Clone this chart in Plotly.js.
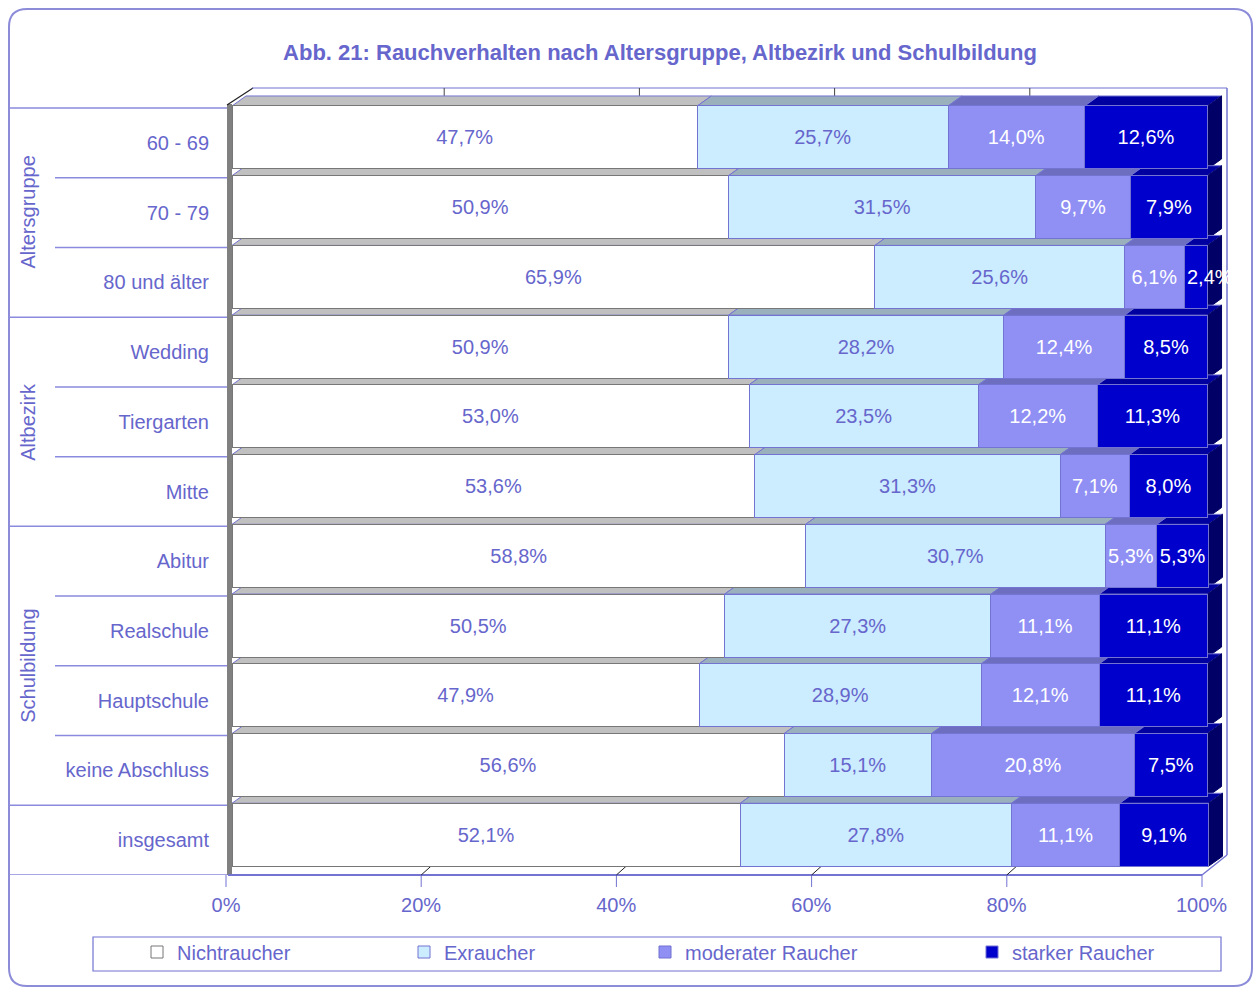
<!DOCTYPE html>
<html>
<head>
<meta charset="utf-8">
<script src="https://cdn.plot.ly/plotly-3.0.1.min.js"></script>
<style>
html,body{margin:0;padding:0;background:#fff;}
#chart{width:1256px;height:988px;}
</style>
</head>
<body>
<div id="chart"></div>
<script>
// ---- data ----
const categories = ['60 - 69','70 - 79','80 und älter','Wedding','Tiergarten','Mitte','Abitur','Realschule','Hauptschule','keine Abschluss','insgesamt'];
const nichtraucher = [47.7,50.9,65.9,50.9,53.0,53.6,58.8,50.5,47.9,56.6,52.1];
const exraucher = [25.7,31.5,25.6,28.2,23.5,31.3,30.7,27.3,28.9,15.1,27.8];
const moderat = [14.0,9.7,6.1,12.4,12.2,7.1,5.3,11.1,12.1,20.8,11.1];
const stark = [12.6,7.9,2.4,8.5,11.3,8.0,5.3,11.1,11.1,7.5,9.1];
const seriesNames = ['Nichtraucher','Exraucher','moderater Raucher','starker Raucher'];
const groupNames = ['Altersgruppe','Altbezirk','Schulbildung'];
const groupCenters = [1, 4, 7.5];           // category index at group middle
const groupBreaks = [-0.5, 2.5, 5.5, 9.5, 10.5];
const xTicks = [0,20,40,60,80,100];
const titleText = 'Abb. 21: Rauchverhalten nach Altersgruppe, Altbezirk und Schulbildung';

// ---- style ----
const FONT = 'Liberation Sans, Arial, sans-serif';
const LABEL = '#6666cc';
const EDGE = '#7373d2';
const frontColors = ['#ffffff','#ccecff','#8f8ff4','#0000cc'];
const topColors = ['#c0c0c0','#9ab0bc','#6e6ec0','#0000a0'];
const sideColor = '#000066';
const textColors = [LABEL, LABEL, '#ffffff', '#ffffff'];

const W=1256, H=988, ML=232, MR=27, MT=86, MB=113;
const PW=W-ML-MR, PH=H-MT-MB;
const px = v => (v-ML)/PW;
const py = v => (H-MB-v)/PH;

const series = [nichtraucher, exraucher, moderat, stark];
const fmt = v => v.toFixed(1).replace('.', ',') + '%';
const SMALL = 4;   // segments narrower than this get their label as a left-anchored annotation

const BW = 0.9035, BO = -0.529;
const legends = ['legend','legend2','legend3','legend4'];

const traces = series.map((vals, s) => ({
  type:'bar', orientation:'h', name:seriesNames[s],
  y:categories, x:vals, width:BW, offset:BO,
  marker:{color:frontColors[s], line:{color: s===0 ? '#777777' : EDGE, width:1}},
  text: vals.map(v => v < SMALL ? '' : fmt(v)), textposition:'inside', insidetextanchor:'middle', textangle:0,
  textfont:{family:FONT, size:20, color:textColors[s]},
  legend: legends[s], hoverinfo:'name+x+y', cliponaxis:false
}));

// ---- 3D faces (data coordinates) ----
const dx = 14/(PW/102.2), dyU = 10/69.73;
const shapes = [];
const annotations = [];
categories.forEach((c, k) => {
  let cum = 0;
  const ytop = k + BO, ybot = k + BO + BW;
  series.forEach((vals, s) => {
    const x0 = cum, x1 = cum + vals[k];
    cum = x1;
    shapes.push({type:'path', xref:'x', yref:'y', layer:'between',
      path:`M${x0},${ytop} L${x1},${ytop} L${x1+dx},${ytop-dyU} L${x0+dx},${ytop-dyU} Z`,
      fillcolor:topColors[s], line:{color:EDGE, width:1}});
    if (vals[k] < SMALL) {
      annotations.push({text:fmt(vals[k]), xref:'x', yref:'y', x:x0, y:k + BO + BW/2,
        xanchor:'left', yanchor:'middle', showarrow:false, xshift:1,
        font:{family:FONT, size:20, color:textColors[s]}});
    }
  });
  shapes.push({type:'path', xref:'x', yref:'y', layer:'between',
    path:`M${cum},${ytop} L${cum+dx},${ytop-dyU} L${cum+dx},${ybot-dyU} L${cum},${ybot} Z`,
    fillcolor:sideColor, line:{color:'#000066', width:1}});
});

// ---- left table lines ----
for (let b = -0.5; b <= 10.5; b += 1) {
  const major = groupBreaks.includes(b);
  shapes.push({type:'line', xref:'paper', yref:'y', layer:'below',
    x0: px(major ? 10 : 55), x1: px(228), y0:b, y1:b,
    line:{color:'#8a8ade', width:1.5}});
}

// ---- walls / floor decoration (paper coords) ----
const P = (x,y) => `${px(x)},${py(y)}`;
shapes.push({type:'rect', xref:'paper', yref:'paper', layer:'below',
  x0:px(227), x1:px(232), y0:py(875), y1:py(104), fillcolor:'#808080', line:{width:0}});
shapes.push({type:'line', xref:'paper', yref:'paper', layer:'below',
  x0:px(227), y0:py(105), x1:px(253), y1:py(88), line:{color:'#222222', width:1.2}});
shapes.push({type:'line', xref:'paper', yref:'paper', layer:'below',
  x0:px(252), y0:py(88), x1:px(1227), y1:py(88), line:{color:EDGE, width:1.2}});
shapes.push({type:'line', xref:'paper', yref:'paper', layer:'below',
  x0:px(1227), y0:py(88), x1:px(1227), y1:py(855), line:{color:EDGE, width:1.5}});
shapes.push({type:'line', xref:'paper', yref:'paper', layer:'below',
  x0:px(1202), y0:py(875), x1:px(1227), y1:py(855), line:{color:EDGE, width:1.5}});
shapes.push({type:'line', xref:'paper', yref:'paper', layer:'below',
  x0:px(228), y0:py(875), x1:px(1202), y1:py(875), line:{color:EDGE, width:2}});
xTicks.forEach(v => {
  const tx = 226 + 9.76*v;
  shapes.push({type:'line', xref:'paper', yref:'paper', layer:'below',
    x0:px(tx), y0:py(875), x1:px(tx), y1:py(887), line:{color:EDGE, width:1}});
  if (v > 0 && v < 100) {
    shapes.push({type:'line', xref:'paper', yref:'paper', layer:'below',
      x0:px(tx), y0:py(875), x1:px(tx+10), y1:py(866), line:{color:'#222222', width:1}});
    shapes.push({type:'line', xref:'paper', yref:'paper', layer:'below',
      x0:px(tx+23), y0:py(88), x1:px(tx+23), y1:py(100), line:{color:'#444444', width:1}});
  }
});

// legend frame
shapes.push({type:'rect', xref:'paper', yref:'paper', layer:'below',
  x0:px(93), x1:px(1221), y0:py(971), y1:py(937), line:{color:EDGE, width:1.2}, fillcolor:'rgba(0,0,0,0)'});

// outer rounded border
(function(){
  const x0=9,y0=9,x1=1252,y1=986,r=18;
  const path = `M${P(x0+r,y0)} L${P(x1-r,y0)} Q${P(x1,y0)} ${P(x1,y0+r)} L${P(x1,y1-r)} Q${P(x1,y1)} ${P(x1-r,y1)} L${P(x0+r,y1)} Q${P(x0,y1)} ${P(x0,y1-r)} L${P(x0,y0+r)} Q${P(x0,y0)} ${P(x0+r,y0)} Z`;
  shapes.push({type:'path', xref:'paper', yref:'paper', layer:'below', path, line:{color:'#8c8cd9', width:2}});
})();

// ---- annotations: group labels ----
groupNames.forEach((g, i) => annotations.push({
  text:g, xref:'paper', yref:'y', x:px(28), y:groupCenters[i], textangle:-90,
  showarrow:false, xanchor:'center', yanchor:'middle',
  font:{family:FONT, size:20, color:LABEL}
}));

// ---- legends ----
const legendText = [176, 443, 684, 1011];
const legendLayout = {};
legends.forEach((l, i) => {
  legendLayout[l] = {orientation:'h', x:px(legendText[i]-39), xanchor:'left', y:py(952), yanchor:'middle',
    bgcolor:'rgba(0,0,0,0)', borderwidth:0, font:{family:FONT, size:20, color:LABEL}, itemclick:false, itemdoubleclick:false};
});

const layout = Object.assign({
  width:W, height:H,
  margin:{l:ML, r:MR, t:MT, b:MB, pad:0},
  paper_bgcolor:'#ffffff', plot_bgcolor:'rgba(0,0,0,0)',
  barmode:'stack', bargap:0.1, constraintext:'none', uniformtext:{mode:'show', minsize:20},
  showlegend:true,
  title:{text:'<b>'+titleText+'</b>', x:660/W, xref:'container', xanchor:'center',
    y:1-52/H, yref:'container', yanchor:'middle', font:{family:FONT, size:22, color:LABEL}},
  xaxis:{range:[0,102.2], tickvals:xTicks, ticktext:xTicks.map(v=>v+'%'), ticks:'',
    showgrid:false, zeroline:false, showline:false, ticklabelshift:-6, ticklabelstandoff:16,
    tickfont:{family:FONT, size:20, color:LABEL}, fixedrange:true},
  yaxis:{type:'category', categoryarray:categories, categoryorder:'array', range:[10.5,-0.8155],
    ticks:'', showgrid:false, zeroline:false, showline:false, ticklabelstandoff:22,
    tickfont:{family:FONT, size:20, color:LABEL}, fixedrange:true},
  shapes, annotations,
  font:{family:FONT, color:LABEL}
}, legendLayout);

Plotly.newPlot('chart', traces, layout, {displayModeBar:false, staticPlot:false});
</script>
</body>
</html>
